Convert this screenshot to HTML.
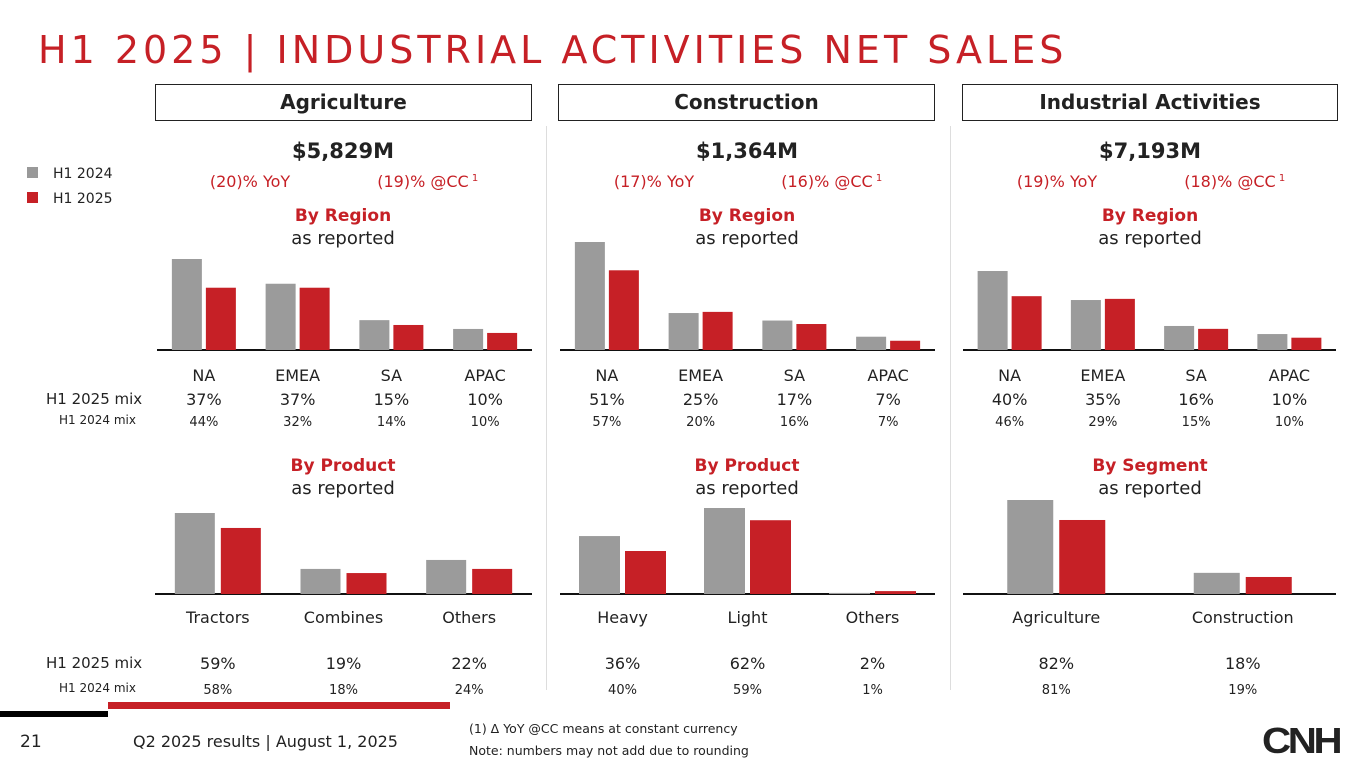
<!DOCTYPE html>
<html><head><meta charset="utf-8"><style>
body{margin:0;width:1365px;height:768px;background:#fff;font-family:"DejaVu Sans","Liberation Sans",sans-serif;position:relative;overflow:hidden;color:#222}
.a{position:absolute;white-space:nowrap}
.hdr{position:absolute;top:84px;height:35px;border:1.5px solid #222;font-weight:bold;font-size:20px;text-align:center;line-height:35px;color:#222}
</style></head><body>
<div class="a" style="left:38px;top:28px;font-size:38px;color:#c62026;letter-spacing:4px">H1 2025 | INDUSTRIAL ACTIVITIES NET SALES</div>
<div class="hdr" style="left:155px;width:375px">Agriculture</div>
<div class="hdr" style="left:558px;width:375px">Construction</div>
<div class="hdr" style="left:962px;width:374px">Industrial Activities</div>
<div class="a" style="left:546px;top:126px;width:1px;height:564px;background:#ddd"></div>
<div class="a" style="left:950px;top:126px;width:1px;height:564px;background:#ddd"></div>
<div class="a" style="left:27px;top:166px;font-size:14px"><span style="display:inline-block;width:11px;height:11px;background:#999;margin-right:15px"></span>H1 2024</div>
<div class="a" style="left:27px;top:191px;font-size:14px"><span style="display:inline-block;width:11px;height:11px;background:#c62026;margin-right:15px"></span>H1 2025</div>
<div class="a" style="left:46px;top:390px;font-size:15px">H1 2025 mix</div>
<div class="a" style="left:59px;top:413px;font-size:12px">H1 2024 mix</div>
<div class="a" style="left:46px;top:654px;font-size:15px">H1 2025 mix</div>
<div class="a" style="left:59px;top:681px;font-size:12px">H1 2024 mix</div>
<svg id="svg" width="1365" height="768" style="position:absolute;left:0;top:0"></svg>
<div class="a" style="left:0;top:711px;width:108px;height:6px;background:#000"></div>
<div class="a" style="left:108px;top:702px;width:342px;height:7px;background:#c62026"></div>
<div class="a" style="left:20px;top:732px;font-size:17px">21</div>
<div class="a" style="left:133px;top:732px;font-size:16px">Q2 2025 results | August 1, 2025</div>
<div class="a" style="left:469px;top:721px;font-size:12.5px">(1) Δ YoY @CC means at constant currency</div>
<div class="a" style="left:469px;top:743px;font-size:12.5px">Note: numbers may not add due to rounding</div>
<div class="a" style="left:1262px;top:720px;font-size:36px;font-weight:900;letter-spacing:-3px;font-family:'Liberation Sans',sans-serif;transform:scaleX(1.12);transform-origin:left">CNH</div>
<script>
// Region charts
const regionCats=["NA","EMEA","SA","APAC"];
const agriRegion2024=[3200,2330,1050,740];
const agriRegion2025=[2190,2190,880,600];
const consRegion2024=[935,320,255,115];
const consRegion2025=[690,330,225,80];
const indRegion2024=[4110,2600,1250,830];
const indRegion2025=[2800,2660,1100,640];
const agriRegionMix25=["37%","37%","15%","10%"];
const agriRegionMix24=["44%","32%","14%","10%"];
const consRegionMix25=["51%","25%","17%","7%"];
const consRegionMix24=["57%","20%","16%","7%"];
const indRegionMix25=["40%","35%","16%","10%"];
const indRegionMix24=["46%","29%","15%","10%"];
// Product charts
const agriProdCats=["Tractors","Combines","Others"];
const agriProd2024=[3520,1090,1480];
const agriProd2025=[2870,910,1090];
const agriProdMix25=["59%","19%","22%"];
const agriProdMix24=["58%","18%","24%"];
const consProdCats=["Heavy","Light","Others"];
const consProd2024=[640,950,12];
const consProd2025=[475,815,32];
const consProdMix25=["36%","62%","2%"];
const consProdMix24=["40%","59%","1%"];
const segCats=["Agriculture","Construction"];
const seg2024=[7290,1640];
const seg2025=[5740,1320];
const segMix25=["82%","18%"];
const segMix24=["81%","19%"];

const NS="http://www.w3.org/2000/svg";
const svg=document.getElementById('svg');
function el(t,a){const e=document.createElementNS(NS,t);for(const k in a)e.setAttribute(k,a[k]);svg.appendChild(e);return e;}
function txt(x,y,s,size,fill,weight){const e=el('text',{x:x,y:y,'font-size':size,fill:fill||'#222','text-anchor':'middle','font-family':'DejaVu Sans, Liberation Sans, sans-serif','font-weight':weight||'normal'});e.textContent=s;return e;}

function chart(name,x0,x1,base,cats,v24,v25,yMax,plotH,bw,gap,mix25,mix24,labY,m25Y,m24Y){
  const n=cats.length,step=(x1-x0)/n;
  const ln=el('line',{x1:x0,x2:x1,y1:base,y2:base,stroke:'#111','stroke-width':2});
  
  
  const y=v=>v/yMax*plotH;
  cats.forEach((c,i)=>{
    const cx=x0+step*(i+0.5);
    const h1=y(v24[i]),h2=y(v25[i]);
    const b1=el('rect',{x:cx-gap/2-bw,y:base-h1,width:bw,height:h1,fill:'#9b9b9b'});
    
    
    const b2=el('rect',{x:cx+gap/2,y:base-h2,width:bw,height:h2,fill:'#c62026'});
    
    
    const t=txt(cx,labY,c,16);
    
    
    const m1=txt(cx,m25Y,mix25[i],16);
    
    
    const m2=txt(cx,m24Y,mix24[i],13);
    
    
  });
}
chart('agri-region',157,532,350,regionCats,agriRegion2024,agriRegion2025,3200,91,30,4,agriRegionMix25,agriRegionMix24,381,405,426);
chart('cons-region',560,935,350,regionCats,consRegion2024,consRegion2025,935,108,30,4,consRegionMix25,consRegionMix24,381,405,426);
chart('ind-region',963,1336,350,regionCats,indRegion2024,indRegion2025,4110,79,30,4,indRegionMix25,indRegionMix24,381,405,426);
chart('agri-product',155,532,594,agriProdCats,agriProd2024,agriProd2025,3520,81,40,6,agriProdMix25,agriProdMix24,623,669,694);
chart('cons-product',560,935,594,consProdCats,consProd2024,consProd2025,950,86,41,5,consProdMix25,consProdMix24,623,669,694);
chart('ind-segment',963,1336,594,segCats,seg2024,seg2025,7290,94,46,6,segMix25,segMix24,623,669,694);

const cols=[[343,"$5,829M","(20)% YoY","(19)% @CC","By Product"],[747,"$1,364M","(17)% YoY","(16)% @CC","By Product"],[1150,"$7,193M","(19)% YoY","(18)% @CC","By Segment"]];
cols.forEach((c,i)=>{
  const cx=c[0];
  let t=txt(cx,158,c[1],21,'#222','bold');
  t=txt(cx-93,187,c[2],16,'#c62026');
  t=txt(cx+80,187,c[3],16,'#c62026');
  t=txt(cx+132,181,'1',10,'#c62026');
  t=txt(cx,221,'By Region',17,'#c62026','bold');
  t=txt(cx,244,'as reported',18);
  t=txt(cx,471,c[4],17,'#c62026','bold');
  t=txt(cx,494,'as reported',18);
});
</script>
</body></html>
